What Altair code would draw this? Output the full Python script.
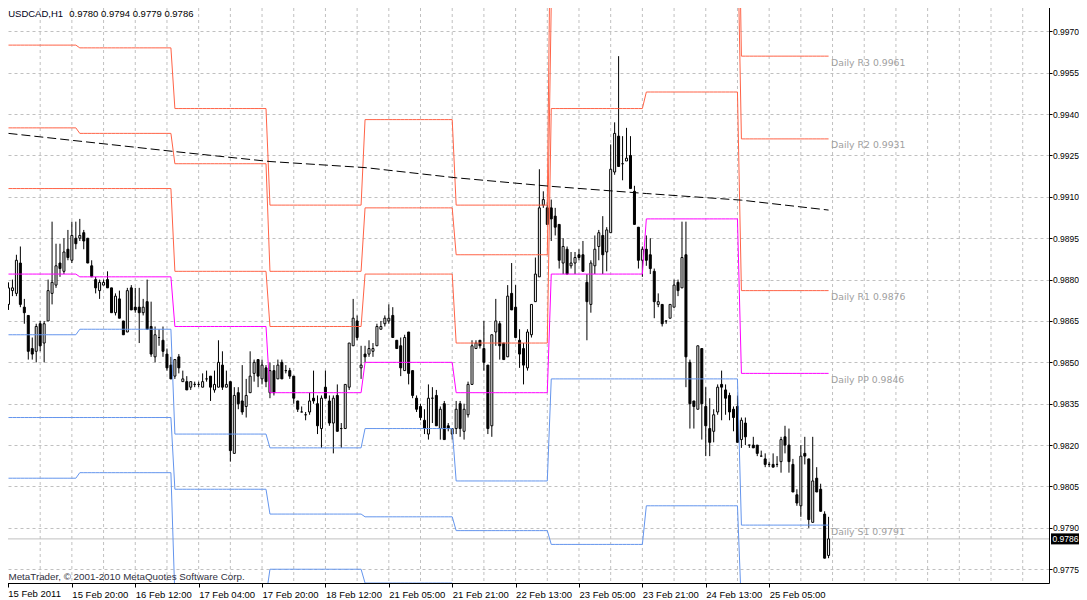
import altair as alt
import pandas as pd

# ---------------- data ----------------
SYMBOL = "USDCAD,H1"
COPYRIGHT = "MetaTrader, \u00a9 2001-2010 MetaQuotes Software Corp."

OPEN = [
    0.9871, 0.9876, 0.9875, 0.9886, 0.9870, 0.9867, 0.9855, 0.9854, 0.9864, 0.9857,
    0.9865, 0.9875, 0.9878, 0.9886, 0.9883, 0.9891, 0.9887, 0.9895, 0.9895, 0.9897,
    0.9895, 0.9885, 0.9880, 0.9876, 0.9878, 0.9880, 0.9877, 0.9868, 0.9873, 0.9865,
    0.9861, 0.9877, 0.9870, 0.9870, 0.9868, 0.9872, 0.9863, 0.9852, 0.9859, 0.9858,
    0.9853, 0.9849, 0.9845, 0.9852, 0.9843, 0.9843, 0.9841, 0.9842, 0.9842, 0.9841,
    0.9844, 0.9845, 0.9840, 0.9841, 0.9849, 0.9841, 0.9843, 0.9817, 0.9839, 0.9836,
    0.9834, 0.9839, 0.9846, 0.9851, 0.9844, 0.9848, 0.9839, 0.9847, 0.9844, 0.9850,
    0.9847, 0.9847, 0.9845, 0.9836, 0.9832, 0.9831, 0.9832, 0.9837, 0.9835, 0.9826,
    0.9841, 0.9836, 0.9828, 0.9838, 0.9826, 0.9826, 0.9841, 0.9856, 0.9865, 0.9848,
    0.9853, 0.9853, 0.9854, 0.9856, 0.9862, 0.9864, 0.9865, 0.9867, 0.9858, 0.9856,
    0.9847, 0.9861, 0.9847, 0.9837, 0.9834, 0.9829, 0.9824, 0.9837, 0.9838, 0.9826,
    0.9835, 0.9827, 0.9824, 0.9826, 0.9835, 0.9825, 0.9831, 0.9842, 0.9855, 0.9858,
    0.9855, 0.9849, 0.9827, 0.9861, 0.9864, 0.9857, 0.9852, 0.9875, 0.9870, 0.9858,
    0.9855, 0.9848, 0.9860, 0.9872, 0.9881, 0.9907, 0.9906, 0.9906, 0.9903, 0.9900,
    0.9886, 0.9891, 0.9885, 0.9886, 0.9889, 0.9889, 0.9879, 0.9871, 0.9885, 0.9892,
    0.9896, 0.9890, 0.9897, 0.9919, 0.9932, 0.9922, 0.9923, 0.9925, 0.9912, 0.9899,
    0.9887, 0.9891, 0.9889, 0.9883, 0.9871, 0.9871, 0.9865, 0.9866, 0.9870, 0.9879,
    0.9877, 0.9889, 0.9850, 0.9836, 0.9833, 0.9855, 0.9834, 0.9826, 0.9825, 0.9832,
    0.9842, 0.9840, 0.9838, 0.9833, 0.9834, 0.9822, 0.9828, 0.9820, 0.9820, 0.9820,
    0.9816, 0.9815, 0.9813, 0.9813, 0.9813, 0.9814, 0.9823, 0.9820, 0.9813, 0.9802,
    0.9798, 0.9817, 0.9815, 0.9792, 0.9808, 0.9804, 0.9795, 0.9780,
]
HIGH = [
    0.9879, 0.9880, 0.9889, 0.9892, 0.9873, 0.9867, 0.9859, 0.9864, 0.9865, 0.9865,
    0.9880, 0.9901, 0.9893, 0.9893, 0.9895, 0.9898, 0.9901, 0.9901, 0.9902, 0.9898,
    0.9895, 0.9887, 0.9881, 0.9880, 0.9880, 0.9883, 0.9877, 0.9875, 0.9876, 0.9865,
    0.9877, 0.9878, 0.9877, 0.9877, 0.9873, 0.9880, 0.9872, 0.9863, 0.9862, 0.9863,
    0.9855, 0.9852, 0.9851, 0.9853, 0.9847, 0.9845, 0.9843, 0.9843, 0.9843, 0.9846,
    0.9847, 0.9845, 0.9847, 0.9858, 0.9854, 0.9847, 0.9843, 0.9841, 0.9841, 0.9849,
    0.9844, 0.9854, 0.9851, 0.9851, 0.9851, 0.9849, 0.9850, 0.9849, 0.9851, 0.9851,
    0.9849, 0.9848, 0.9845, 0.9836, 0.9834, 0.9832, 0.9839, 0.9847, 0.9838, 0.9838,
    0.9847, 0.9838, 0.9838, 0.9842, 0.9828, 0.9842, 0.9857, 0.9873, 0.9867, 0.9856,
    0.9856, 0.9858, 0.9857, 0.9864, 0.9865, 0.9867, 0.9871, 0.9870, 0.9858, 0.9859,
    0.9860, 0.9861, 0.9847, 0.9838, 0.9835, 0.9833, 0.9842, 0.9841, 0.9840, 0.9834,
    0.9836, 0.9828, 0.9826, 0.9836, 0.9836, 0.9835, 0.9843, 0.9858, 0.9858, 0.9858,
    0.9865, 0.9849, 0.9860, 0.9873, 0.9865, 0.9857, 0.9878, 0.9886, 0.9878, 0.9862,
    0.9857, 0.9862, 0.9871, 0.9888, 0.9920, 0.9912, 0.9908, 0.9909, 0.9906, 0.9900,
    0.9895, 0.9892, 0.9890, 0.9890, 0.9891, 0.9894, 0.9882, 0.9887, 0.9896, 0.9898,
    0.9903, 0.9899, 0.9929, 0.9937, 0.9961, 0.9932, 0.9935, 0.9932, 0.9914, 0.9899,
    0.9892, 0.9896, 0.9895, 0.9884, 0.9875, 0.9871, 0.9865, 0.9871, 0.9880, 0.9880,
    0.9901, 0.9901, 0.9851, 0.9836, 0.9856, 0.9855, 0.9841, 0.9837, 0.9833, 0.9842,
    0.9847, 0.9842, 0.9839, 0.9834, 0.9838, 0.9830, 0.9830, 0.9820, 0.9823, 0.9820,
    0.9818, 0.9817, 0.9814, 0.9817, 0.9816, 0.9823, 0.9827, 0.9826, 0.9815, 0.9804,
    0.9820, 0.9823, 0.9815, 0.9823, 0.9812, 0.9806, 0.9796, 0.9794,
]
LOW = [
    0.9869, 0.9874, 0.9874, 0.9870, 0.9864, 0.9851, 0.9851, 0.9850, 0.9854, 0.9850,
    0.9865, 0.9871, 0.9877, 0.9881, 0.9882, 0.9887, 0.9886, 0.9891, 0.9894, 0.9891,
    0.9886, 0.9881, 0.9875, 0.9873, 0.9878, 0.9877, 0.9868, 0.9867, 0.9866, 0.9860,
    0.9861, 0.9869, 0.9868, 0.9857, 0.9867, 0.9862, 0.9852, 0.9850, 0.9856, 0.9852,
    0.9847, 0.9844, 0.9844, 0.9846, 0.9843, 0.9840, 0.9840, 0.9841, 0.9841, 0.9841,
    0.9843, 0.9836, 0.9839, 0.9841, 0.9840, 0.9841, 0.9814, 0.9817, 0.9833, 0.9831,
    0.9830, 0.9839, 0.9843, 0.9841, 0.9842, 0.9841, 0.9837, 0.9838, 0.9844, 0.9844,
    0.9846, 0.9844, 0.9835, 0.9832, 0.9832, 0.9829, 0.9831, 0.9835, 0.9824, 0.9819,
    0.9837, 0.9827, 0.9817, 0.9825, 0.9819, 0.9826, 0.9840, 0.9856, 0.9858, 0.9844,
    0.9850, 0.9852, 0.9852, 0.9856, 0.9862, 0.9863, 0.9864, 0.9859, 0.9855, 0.9845,
    0.9847, 0.9842, 0.9837, 0.9832, 0.9829, 0.9824, 0.9822, 0.9828, 0.9827, 0.9822,
    0.9822, 0.9825, 0.9822, 0.9824, 0.9823, 0.9822, 0.9830, 0.9842, 0.9855, 0.9855,
    0.9847, 0.9824, 0.9823, 0.9856, 0.9851, 0.9851, 0.9852, 0.9869, 0.9859, 0.9848,
    0.9842, 0.9847, 0.9859, 0.9872, 0.9881, 0.9906, 0.9900, 0.9894, 0.9896, 0.9884,
    0.9882, 0.9882, 0.9884, 0.9882, 0.9887, 0.9883, 0.9858, 0.9868, 0.9882, 0.9887,
    0.9882, 0.9883, 0.9897, 0.9918, 0.9921, 0.9916, 0.9923, 0.9913, 0.9900, 0.9884,
    0.9881, 0.9885, 0.9882, 0.9866, 0.9870, 0.9863, 0.9864, 0.9866, 0.9870, 0.9874,
    0.9877, 0.9841, 0.9826, 0.9826, 0.9833, 0.9822, 0.9816, 0.9816, 0.9821, 0.9831,
    0.9829, 0.9831, 0.9829, 0.9825, 0.9821, 0.9819, 0.9820, 0.9819, 0.9819, 0.9816,
    0.9816, 0.9812, 0.9812, 0.9812, 0.9812, 0.9810, 0.9817, 0.9810, 0.9803, 0.9798,
    0.9794, 0.9813, 0.9790, 0.9792, 0.9803, 0.9796, 0.9779, 0.9779,
]
CLOSE = [
    0.9877, 0.9877, 0.9887, 0.9871, 0.9868, 0.9854, 0.9853, 0.9863, 0.9856, 0.9864,
    0.9876, 0.9879, 0.9885, 0.9884, 0.9890, 0.9888, 0.9896, 0.9893, 0.9896, 0.9894,
    0.9886, 0.9881, 0.9877, 0.9879, 0.9879, 0.9877, 0.9868, 0.9874, 0.9866, 0.9860,
    0.9876, 0.9869, 0.9869, 0.9868, 0.9870, 0.9862, 0.9853, 0.9860, 0.9859, 0.9854,
    0.9848, 0.9844, 0.9851, 0.9848, 0.9844, 0.9840, 0.9843, 0.9842, 0.9842, 0.9843,
    0.9844, 0.9841, 0.9842, 0.9850, 0.9841, 0.9842, 0.9818, 0.9838, 0.9835, 0.9832,
    0.9838, 0.9845, 0.9850, 0.9845, 0.9849, 0.9843, 0.9847, 0.9839, 0.9849, 0.9844,
    0.9847, 0.9845, 0.9837, 0.9833, 0.9832, 0.9831, 0.9836, 0.9836, 0.9827, 0.9837,
    0.9837, 0.9828, 0.9837, 0.9825, 0.9826, 0.9842, 0.9857, 0.9866, 0.9859, 0.9849,
    0.9852, 0.9855, 0.9855, 0.9863, 0.9863, 0.9866, 0.9866, 0.9859, 0.9855, 0.9848,
    0.9859, 0.9846, 0.9838, 0.9833, 0.9830, 0.9826, 0.9837, 0.9837, 0.9827, 0.9833,
    0.9822, 0.9826, 0.9826, 0.9833, 0.9826, 0.9833, 0.9842, 0.9856, 0.9857, 0.9856,
    0.9850, 0.9826, 0.9860, 0.9865, 0.9856, 0.9851, 0.9874, 0.9869, 0.9859, 0.9853,
    0.9849, 0.9861, 0.9871, 0.9882, 0.9906, 0.9909, 0.9900, 0.9902, 0.9899, 0.9887,
    0.9892, 0.9882, 0.9886, 0.9888, 0.9888, 0.9883, 0.9872, 0.9886, 0.9891, 0.9897,
    0.9889, 0.9898, 0.9920, 0.9933, 0.9921, 0.9922, 0.9924, 0.9913, 0.9900, 0.9887,
    0.9891, 0.9887, 0.9884, 0.9872, 0.9872, 0.9864, 0.9865, 0.9871, 0.9878, 0.9876,
    0.9888, 0.9852, 0.9835, 0.9834, 0.9856, 0.9835, 0.9827, 0.9821, 0.9831, 0.9841,
    0.9841, 0.9837, 0.9832, 0.9830, 0.9821, 0.9829, 0.9823, 0.9820, 0.9819, 0.9817,
    0.9816, 0.9813, 0.9813, 0.9812, 0.9813, 0.9822, 0.9820, 0.9814, 0.9803, 0.9799,
    0.9816, 0.9816, 0.9793, 0.9807, 0.9803, 0.9796, 0.9779, 0.9786,
]

TICK_BARS = [0, 16, 32, 48, 64, 80, 96, 112, 128, 144, 160, 176, 192]
TICK_LABELS = ["15 Feb 2011", "15 Feb 20:00", "16 Feb 12:00", "17 Feb 04:00",
               "17 Feb 20:00", "18 Feb 12:00", "21 Feb 05:00", "21 Feb 21:00",
               "22 Feb 13:00", "23 Feb 05:00", "23 Feb 21:00", "24 Feb 13:00",
               "25 Feb 05:00"]
GRID_BARS = [8, 16, 24, 32, 40, 48, 56, 64, 72, 80, 88, 96, 104, 112, 120, 128,
             136, 144, 152, 160, 168, 176, 184, 192, 200, 208, 216, 224, 232,
             240, 248, 256]
PRICE_TICKS = [0.9775, 0.9790, 0.9805, 0.9820, 0.9835, 0.9850, 0.9865,
               0.9880, 0.9895, 0.9910, 0.9925, 0.9940, 0.9955, 0.9970]

# daily pivot levels, one value per pivot day (first bar of each day)
DAY_START = [0, 18, 42, 66, 90, 113, 137, 161, 185]
LEVELS = ["R3", "R2", "R1", "PP", "S1", "S2", "S3"]
R3 = [0.9965, 0.9964, 0.9942, 0.9907, 0.9938, 0.9907, 1.0040, 1.0050, 0.9961]
R2 = [0.9935, 0.9933, 0.9922, 0.9883, 0.9906, 0.9889, 0.9980, 1.0007, 0.9931]
R1 = [0.9913, 0.9913, 0.9883, 0.9863, 0.9882, 0.9857, 0.9942, 0.9948, 0.9876]
PP = [0.9882, 0.9881, 0.9863, 0.9839, 0.9850, 0.9839, 0.9882, 0.9902, 0.9846]
S1 = [0.9860, 0.9862, 0.9824, 0.9819, 0.9826, 0.9807, 0.9844, 0.9844, 0.9791]
S2 = [0.9830, 0.9830, 0.9804, 0.9795, 0.9794, 0.9789, 0.9784, 0.9798, 0.9761]
S3 = [0.9808, 0.9810, 0.9765, 0.9775, 0.9770, 0.9757, 0.9746, 0.9740, 0.9706]
LEVEL_COLORS = ["#FF6347", "#FF6347", "#FF6347", "#FF00FF",
                "#6495ED", "#6495ED", "#6495ED"]
LABELED_LEVELS = ["R3", "R2", "R1", "PP", "S1"]

# slow moving average (dashed black)
MA_BARS = [0, 42, 66, 90, 113, 137, 161, 185, 207]
MA_VALUES = [0.99330, 0.99264, 0.99228, 0.99206, 0.99169, 0.99138, 0.99112,
             0.99088, 0.99052]

LAST_PRICE = 0.9786

# ---------------- tables ----------------
n = len(OPEN)
candles = pd.DataFrame({"bar": list(range(n)), "open": OPEN, "high": HIGH,
                        "low": LOW, "close": CLOSE})
candles["dir"] = ["up" if c >= o else "down" for o, c in zip(OPEN, CLOSE)]

level_values = dict(zip(LEVELS, [R3, R2, R1, PP, S1, S2, S3]))
rows = []
for name in LEVELS:
    vals = level_values[name]
    for b in range(n):
        day = max(i for i, s in enumerate(DAY_START) if s <= b)
        rows.append({"bar": b, "level": name, "value": vals[day]})
pivots = pd.DataFrame(rows)

labels = pd.DataFrame({
    "bar": [n - 1] * len(LABELED_LEVELS),
    "value": [level_values[k][-1] for k in LABELED_LEVELS],
    "text": [f"Daily {k} {level_values[k][-1]:.4f}" for k in LABELED_LEVELS],
})
ma = pd.DataFrame({"bar": MA_BARS, "value": MA_VALUES})
grid = pd.DataFrame({"bar": GRID_BARS})
last = pd.DataFrame({"price": [LAST_PRICE], "label": [f"{LAST_PRICE:.4f}"]})
header = pd.DataFrame({"sym": [SYMBOL],
                       "ohlc": [" ".join(f"{v:.4f}" for v in
                                         (OPEN[-1], HIGH[-1], LOW[-1], CLOSE[-1]))],
                       "copy": [COPYRIGHT],
                       "first": [TICK_LABELS[0]]})

# ---------------- scales & axes ----------------
FONT = "Liberation Sans"
xs = alt.Scale(domain=[-0.375, 261.375], nice=False, zero=False)
ys = alt.Scale(domain=[0.977001, 0.998063], nice=False, zero=False)

# the first (left-most) date label is drawn as a text mark so it stays inside the page
label_expr = " : ".join(f"datum.value == {b} ? '{t}'"
                        for b, t in zip(TICK_BARS[1:], TICK_LABELS[1:])) + " : ''"
x_axis = alt.Axis(values=TICK_BARS, labelExpr=label_expr, title=None, grid=False,
                  orient="bottom", tickSize=4, tickColor="black",
                  domainColor="black", labelAlign="left", labelBaseline="top",
                  labelPadding=2, labelFont=FONT, labelFontSize=9.5,
                  labelColor="black", labelFlush=False, labelOverlap=False)
y_axis = alt.Axis(values=PRICE_TICKS, format=".4f", title=None, orient="right",
                  grid=True, gridColor="#C0C0C0", gridDash=[3, 3],
                  tickSize=3, tickColor="black", domainColor="black",
                  labelPadding=0.5, labelFont=FONT, labelFontSize=8.5,
                  labelColor="black", labelFlush=False, labelOverlap=False)

X = lambda f: alt.X(f, scale=xs, axis=x_axis)
Y = lambda f: alt.Y(f, scale=ys, axis=y_axis)

vgrid = alt.Chart(grid).mark_rule(color="#C0C0C0", strokeDash=[3, 3],
                                  strokeWidth=1).encode(x=X("bar:Q"))
bidline = alt.Chart(last).mark_rule(color="#C0C0C0", strokeWidth=1).encode(
    y=Y("price:Q"))
wicks = alt.Chart(candles).mark_rule(color="black", strokeWidth=1).encode(
    x=X("bar:Q"), y=Y("low:Q"), y2="high:Q")
bodies = alt.Chart(candles).mark_bar(size=2, stroke="black", strokeWidth=1).encode(
    x=X("bar:Q"), y=Y("open:Q"), y2="close:Q",
    fill=alt.Fill("dir:N", scale=alt.Scale(domain=["up", "down"],
                                           range=["white", "black"]), legend=None))
pivot_lines = alt.Chart(pivots).mark_line(strokeWidth=1, clip=True).encode(
    x=X("bar:Q"), y=Y("value:Q"),
    color=alt.Color("level:N", scale=alt.Scale(domain=LEVELS, range=LEVEL_COLORS),
                    legend=None))
ma_line = alt.Chart(ma).mark_line(color="black", strokeWidth=1,
                                  strokeDash=[9, 4], clip=True).encode(
    x=X("bar:Q"), y=Y("value:Q"))
level_text = alt.Chart(labels).mark_text(
    align="left", baseline="alphabetic", dx=2.5, dy=9.5, font="DejaVu Sans",
    fontSize=9.3, color="#A0A0A0").encode(x=X("bar:Q"), y=Y("value:Q"),
                                          text="text:N")
sym_text = alt.Chart(header).mark_text(
    align="left", baseline="alphabetic", font=FONT, fontSize=9.5,
    color="#000020").encode(x=alt.value(6.2), y=alt.value(14.7), text="sym:N")
ohlc_text = alt.Chart(header).mark_text(
    align="left", baseline="alphabetic", font=FONT, fontSize=9.5,
    color="black").encode(x=alt.value(67.3), y=alt.value(14.7), text="ohlc:N")
copy_text = alt.Chart(header).mark_text(
    align="left", baseline="alphabetic", font=FONT, fontSize=9.8,
    color="#303040").encode(x=alt.value(6.5), y=alt.value(578), text="copy:N")
first_label = alt.Chart(header).mark_text(
    align="left", baseline="top", font=FONT, fontSize=9.5,
    color="black").encode(x=alt.value(6.3), y=alt.value(587), text="first:N")
price_box = alt.Chart(last).mark_rule(color="black", strokeWidth=11).encode(
    x=alt.value(1049), x2=alt.value(1077), y=Y("price:Q"))
price_text = alt.Chart(last).mark_text(
    align="left", baseline="middle", font=FONT, fontSize=8.5,
    color="white").encode(x=alt.value(1050.5), y=Y("price:Q"), text="label:N")

chart = alt.layer(
    vgrid, bidline, wicks, bodies, pivot_lines, ma_line, level_text,
    sym_text, ohlc_text, copy_text, first_label, price_box, price_text,
).properties(
    width=1047, height=581,
    padding={"left": -6, "top": -6, "right": 30, "bottom": 20},
    autosize=alt.AutoSizeParams(type="none"),
).configure_view(stroke="black", strokeWidth=1).configure(background="white")

chart.save("out.html", embed_options={"renderer": "svg", "actions": False})
